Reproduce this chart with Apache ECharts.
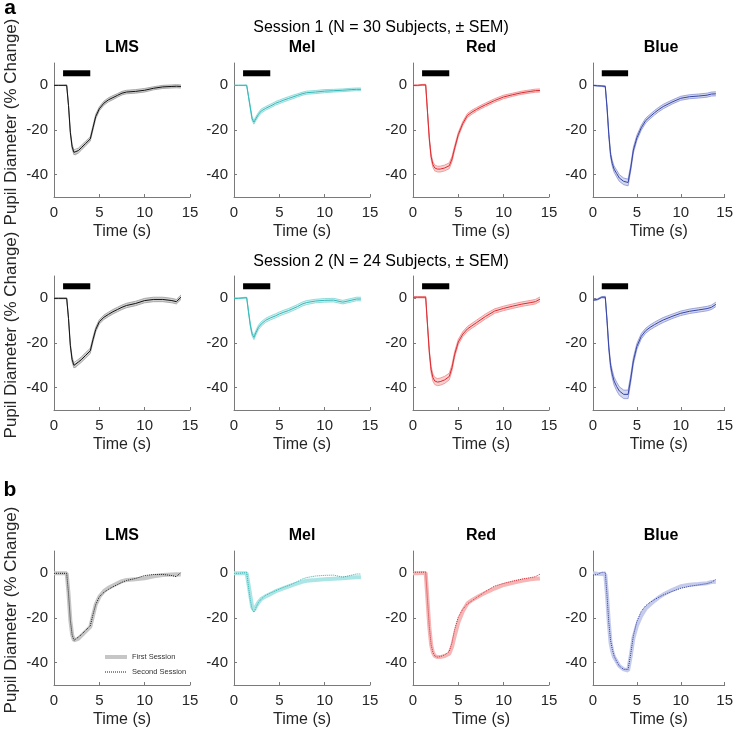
<!DOCTYPE html>
<html>
<head>
<meta charset="utf-8">
<script src="https://cdn.jsdelivr.net/npm/echarts@6/dist/echarts.min.js"></script>
<style>
  html, body { margin: 0; padding: 0; background: #ffffff; }
  #main { width: 736px; height: 732px; }
</style>
</head>
<body>
<div id="main"></div>
<script>
// time points (s) shared by every trace
var times = [0, 0.5, 1, 1.4, 1.6, 1.8, 2, 2.2, 2.4, 2.7, 3, 3.5, 4, 4.3, 4.6, 5, 5.5, 6, 6.5, 7, 7.5, 8, 9, 10, 11, 12, 13, 13.5, 14]

var stimuli = ['LMS', 'Mel', 'Red', 'Blue']
var xTicks = [0, 5, 10, 15]
var yTicks = [-40, -20, 0]
var stimWindow = [1, 4] // light pulse, s
var stimBarLevel = 5.4

// session 1 means and SEM (% change)
var lmsS1 = [0, 0, 0, 0, -9, -21, -27.5, -30, -30.3, -29.2, -28, -26, -24, -19, -14, -10.5, -8, -6.5, -5.5, -4.5, -3.5, -3, -2.7, -2.2, -1.3, -0.7, -0.5, -0.4, -0.5]
var lmsS1Sem = [0.1, 0.1, 0.1, 0.2, 0.5, 0.8, 1, 1.1, 1.1, 1.1, 1.1, 1, 1, 1, 1, 0.9, 0.9, 0.9, 0.9, 0.8, 0.8, 0.8, 0.8, 0.8, 0.7, 0.7, 0.7, 0.7, 0.7]
var melS1 = [0, 0, 0, 0, -5, -10, -15, -16.5, -15, -13, -11.5, -10.3, -9.3, -8.7, -8, -7.4, -6.6, -5.9, -5.2, -4.5, -3.8, -3.3, -3, -2.6, -2.4, -2.2, -1.9, -1.8, -1.8]
var melS1Sem = [0.1, 0.1, 0.1, 0.2, 0.5, 0.7, 0.8, 0.9, 0.9, 0.9, 0.9, 0.8, 0.8, 0.8, 0.8, 0.8, 0.8, 0.8, 0.8, 0.7, 0.7, 0.7, 0.7, 0.7, 0.6, 0.6, 0.6, 0.6, 0.6]
var redS1 = [0, 0, 0.2, 0.2, -12, -24, -32, -35.5, -37, -37.5, -37.5, -37, -36, -33, -28, -22, -17, -13.5, -12, -10.8, -9.7, -8.7, -6.8, -5.2, -4.2, -3.3, -2.7, -2.4, -2.3]
var redS1Sem = [0.2, 0.2, 0.2, 0.3, 0.6, 1, 1.2, 1.3, 1.3, 1.3, 1.3, 1.3, 1.3, 1.2, 1.1, 1, 0.9, 0.9, 0.9, 0.8, 0.8, 0.8, 0.8, 0.8, 0.7, 0.7, 0.7, 0.7, 0.7]
var blueS1 = [0, -0.2, -0.3, -0.5, -10, -22, -31, -35, -37.5, -39.5, -41.5, -43, -43.5, -37, -29, -23.5, -19, -15.8, -14, -12.3, -10.8, -9.5, -7.5, -5.8, -5.1, -4.8, -4.4, -3.9, -3.8]
var blueS1Sem = [0.2, 0.2, 0.2, 0.3, 0.7, 1, 1.2, 1.3, 1.4, 1.5, 1.5, 1.5, 1.5, 1.4, 1.3, 1.2, 1.1, 1.1, 1, 1, 1, 1, 0.9, 0.9, 0.9, 0.9, 0.9, 0.9, 0.9]

// session 2 means and SEM
var lmsS2 = [0, 0, 0, 0, -9, -21, -27.5, -30, -30, -28.5, -27.5, -25.5, -23.5, -18.5, -14, -10.5, -8.5, -7.2, -6, -5, -4, -3.2, -2.3, -1, -0.5, -0.5, -1, -1.5, 0.5]
var lmsS2Sem = [0.2, 0.2, 0.2, 0.2, 0.6, 0.9, 1.1, 1.2, 1.2, 1.2, 1.2, 1.2, 1.2, 1.1, 1, 1, 1, 1, 1, 1, 1, 1, 1, 1, 1, 1, 1, 1, 1]
var melS2 = [0, 0, 0.2, 0.3, -6, -12, -16, -17.5, -15.5, -13, -11.5, -9.8, -8.8, -8.3, -7.8, -7, -6.2, -5.5, -4.6, -3.7, -2.6, -1.9, -1.2, -0.9, -0.8, -1.7, -0.8, -0.3, -0.3]
var melS2Sem = [0.2, 0.2, 0.2, 0.2, 0.6, 0.8, 0.9, 1, 1, 1, 1, 0.9, 0.9, 0.9, 0.9, 0.9, 0.9, 0.9, 0.9, 0.9, 0.9, 0.9, 0.8, 0.8, 0.8, 0.8, 0.8, 0.8, 0.8]
var redS2 = [0.5, 0.5, 0.5, 0.5, -12, -24, -32, -35.5, -37, -37.5, -37.3, -36.5, -35, -31, -25, -19.5, -16, -13.7, -12.3, -10.9, -9.5, -8.1, -5.7, -4.5, -3.5, -2.6, -1.9, -1.5, -0.4]
var redS2Sem = [0.3, 0.3, 0.3, 0.4, 0.8, 1.2, 1.5, 1.6, 1.6, 1.6, 1.6, 1.6, 1.5, 1.4, 1.3, 1.2, 1.1, 1.1, 1.1, 1.1, 1.1, 1.1, 1, 1, 1, 1, 1, 1, 1]
var blueS2 = [-0.8, -0.5, 0.5, 0.5, -10, -22, -30, -34, -37, -39.5, -41.5, -43, -43, -36, -28, -21.5, -17, -14.5, -13, -11.8, -10.7, -9.7, -8.1, -6.7, -5.8, -5.2, -4.6, -4, -2.7]
var blueS2Sem = [0.3, 0.3, 0.3, 0.4, 0.8, 1.2, 1.5, 1.7, 1.8, 1.9, 1.9, 1.9, 1.9, 1.7, 1.5, 1.3, 1.2, 1.1, 1.1, 1.1, 1.1, 1.1, 1, 1, 1, 1, 1, 1, 1]

var session1 = [lmsS1, melS1, redS1, blueS1]
var session1Sem = [lmsS1Sem, melS1Sem, redS1Sem, blueS1Sem]
var session2 = [lmsS2, melS2, redS2, blueS2]
var session2Sem = [lmsS2Sem, melS2Sem, redS2Sem, blueS2Sem]

// colours per stimulus
var meanColor = ['#111111', '#33b8b8', '#dc2a30', '#3644a6']
var edgeColor = ['#8f8f8f', '#6fd0d0', '#ef7a7a', '#7b86cf']
var fillColor = ['rgba(150,150,150,0.45)', 'rgba(80,200,200,0.25)', 'rgba(232,70,70,0.25)', 'rgba(60,76,176,0.22)']
var firstColor = ['#c6c6c6', '#ace5e5', '#f6b6b6', '#c4cbec']
var secondColor = ['#1a1a1a', '#2fb3b3', '#cf2c36', '#2f3d9c']

var FONT = '"Liberation Sans", Arial, Helvetica, sans-serif'
var colLeft = [54, 234, 413, 593]
var rowTop = [63, 276, 551]
var gridW = 136
var gridH = 134

var grids = []
var xAxes = []
var yAxes = []
var series = []
var graphics = []

function pairs(vals) {
  return times.map(function(t, i) { return [t, vals[i]] })
}

// SEM band drawn as one polygon through the axis scales
function bandRenderer(lo, hi, fill) {
  return function(params, api) {
    if (params.dataIndex !== 0) return null
    var pts = []
    for (var i = 0; i < times.length; i++) pts.push(api.coord([times[i], hi[i]]))
    for (var j = times.length - 1; j >= 0; j--) pts.push(api.coord([times[j], lo[j]]))
    return { type: 'polygon', shape: { points: pts }, style: { fill: fill }, silent: true }
  }
}

for (var r = 0; r < 3; r++) {
  for (var c = 0; c < 4; c++) {
    var g = r * 4 + c
    grids.push({ left: colLeft[c], top: rowTop[r], width: gridW, height: gridH })
    xAxes.push({
      gridIndex: g, type: 'value', min: 0, max: 15, interval: 5,
      axisLine: { onZero: false, lineStyle: { color: '#7a7a7a', width: 1 } },
      axisTick: { inside: true, length: 3, lineStyle: { color: '#7a7a7a' } },
      axisLabel: { fontSize: 15, color: '#262626', margin: 8, fontFamily: FONT, customValues: xTicks },
      splitLine: { show: false },
      name: 'Time (s)', nameLocation: 'middle', nameGap: 27,
      nameTextStyle: { fontSize: 16, color: '#262626', fontFamily: FONT }
    })
    yAxes.push({
      gridIndex: g, type: 'value', min: -50, max: 10,
      axisLine: { show: true, onZero: false, lineStyle: { color: '#7a7a7a', width: 1 } },
      axisTick: { show: true, inside: true, length: 3, customValues: yTicks, lineStyle: { color: '#7a7a7a' } },
      axisLabel: { fontSize: 15, color: '#262626', margin: 6, fontFamily: FONT, customValues: yTicks },
      splitLine: { show: false }
    })

    if (r < 2) {
      var m = r === 0 ? session1[c] : session2[c]
      var s = r === 0 ? session1Sem[c] : session2Sem[c]
      var lower = m.map(function(v, i) { return v - s[i] })
      var upper = m.map(function(v, i) { return v + s[i] })
      series.push({
        type: 'custom', xAxisIndex: g, yAxisIndex: g, silent: true, z: 1,
        data: times.map(function(t, i) { return [t, lower[i], upper[i]] }),
        encode: { x: 0, y: [1, 2] },
        renderItem: bandRenderer(lower, upper, fillColor[c])
      })
      series.push({
        type: 'line', xAxisIndex: g, yAxisIndex: g, data: pairs(lower),
        symbol: 'none', silent: true, z: 2,
        lineStyle: { color: edgeColor[c], width: 0.7 }
      })
      series.push({
        type: 'line', xAxisIndex: g, yAxisIndex: g, data: pairs(upper),
        symbol: 'none', silent: true, z: 2,
        lineStyle: { color: edgeColor[c], width: 0.7 }
      })
      series.push({
        type: 'line', xAxisIndex: g, yAxisIndex: g, data: pairs(m),
        symbol: 'none', silent: true, z: 3,
        lineStyle: { color: meanColor[c], width: 1 }
      })
      series.push({
        type: 'line', xAxisIndex: g, yAxisIndex: g,
        data: [[stimWindow[0], stimBarLevel], [stimWindow[1], stimBarLevel]],
        symbol: 'none', silent: true, z: 4,
        lineStyle: { color: '#000000', width: 6, cap: 'butt' }
      })
    } else {
      series.push({
        name: c === 0 ? 'First Session' : stimuli[c] + ' first',
        type: 'line', xAxisIndex: g, yAxisIndex: g, data: pairs(session1[c]),
        symbol: 'none', silent: true,
        itemStyle: { color: firstColor[c] },
        lineStyle: { color: firstColor[c], width: 4 }
      })
      series.push({
        name: c === 0 ? 'Second Session' : stimuli[c] + ' second',
        type: 'line', xAxisIndex: g, yAxisIndex: g, data: pairs(session2[c]),
        symbol: 'none', silent: true, z: 3,
        itemStyle: { color: secondColor[c] },
        lineStyle: { color: secondColor[c], width: 1, type: 'dotted' }
      })
    }

    if (r !== 1) {
      graphics.push({
        type: 'text', x: colLeft[c] + gridW / 2, y: rowTop[r] - 15,
        style: { text: stimuli[c], font: 'bold 16px ' + FONT, fill: '#000', textAlign: 'center', textVerticalAlign: 'middle' }
      })
    }
  }
  graphics.push({
    type: 'text', x: 11, y: rowTop[r] + gridH / 2 - 8, rotation: Math.PI / 2,
    style: { text: 'Pupil Diameter (% Change)', font: '17px ' + FONT, fill: '#262626', textAlign: 'center', textVerticalAlign: 'middle' }
  })
}

graphics.push({ type: 'text', x: 381, y: 28, style: { text: 'Session 1 (N = 30 Subjects, \u00b1 SEM)', font: '16px ' + FONT, fill: '#000', textAlign: 'center', textVerticalAlign: 'middle' } })
graphics.push({ type: 'text', x: 381, y: 262, style: { text: 'Session 2 (N = 24 Subjects, \u00b1 SEM)', font: '16px ' + FONT, fill: '#000', textAlign: 'center', textVerticalAlign: 'middle' } })
graphics.push({ type: 'text', x: 10, y: 8, style: { text: 'a', font: 'bold 21px ' + FONT, fill: '#000', textAlign: 'center', textVerticalAlign: 'middle' } })
graphics.push({ type: 'text', x: 10, y: 490, style: { text: 'b', font: 'bold 21px ' + FONT, fill: '#000', textAlign: 'center', textVerticalAlign: 'middle' } })

var chart = echarts.init(document.getElementById('main'))
chart.setOption({
  animation: false,
  backgroundColor: '#ffffff',
  grid: grids,
  xAxis: xAxes,
  yAxis: yAxes,
  legend: {
    data: [
      { name: 'First Session', lineStyle: { width: 4, color: '#c6c6c6' } },
      { name: 'Second Session', lineStyle: { width: 1, color: '#1a1a1a', type: 'dotted' } }
    ],
    orient: 'vertical', left: 98, top: 648,
    itemWidth: 22, itemHeight: 8, itemGap: 7,
    itemStyle: { opacity: 0 },
    textStyle: { fontSize: 7.5, color: '#333', fontFamily: FONT },
    selectedMode: false
  },
  graphic: graphics,
  series: series
})
</script>
</body>
</html>
